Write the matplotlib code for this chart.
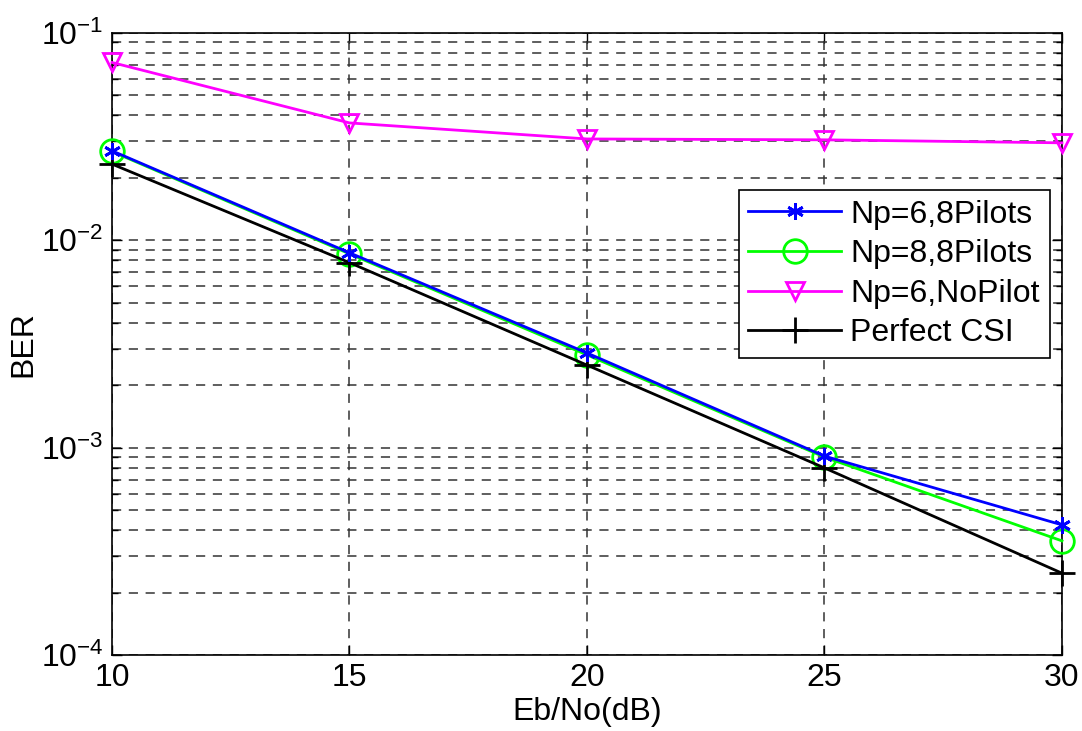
import matplotlib
matplotlib.use("Agg")
import matplotlib.pyplot as plt
import numpy as np
from matplotlib.ticker import LogLocator, NullFormatter

plt.rcParams["font.family"] = ["Liberation Sans", "DejaVu Sans"]
plt.rcParams["mathtext.fontset"] = "custom"
plt.rcParams["mathtext.rm"] = "Liberation Sans"
plt.rcParams["mathtext.it"] = "Liberation Sans"
plt.rcParams["mathtext.bf"] = "Liberation Sans"

ebno = [10, 15, 20, 25, 30]
np6_8pilots = [0.0270, 0.0087, 0.00286, 0.00091, 0.000424]
np8_8pilots = [0.0268, 0.0086, 0.00280, 0.00090, 0.000355]
np6_nopilot = [0.0720, 0.0368, 0.0308, 0.0305, 0.0295]
perfect_csi = [0.0233, 0.0078, 0.00250, 0.000798, 0.000248]

fig = plt.figure(figsize=(10.82, 7.31), dpi=100)
ax = fig.add_axes([0.1035, 0.104, 0.878, 0.851])

asterisk = (6, 2, 0)
ax.semilogy(ebno, np6_8pilots, "-", marker=asterisk, color="#0000ff", lw=2, ms=12, mew=2,
            label="Np=6,8Pilots", clip_on=False, zorder=5)
ax.semilogy(ebno, np8_8pilots, "-o", color="#00ff00", lw=2, ms=17, mew=2, mfc="none",
            label="Np=8,8Pilots", clip_on=False, zorder=4)
ax.semilogy(ebno, np6_nopilot, "-v", color="#ff00ff", lw=2, ms=13, mew=2, mfc="none",
            label="Np=6,NoPilot", clip_on=False, zorder=4)
ax.semilogy(ebno, perfect_csi, "-+", color="black", lw=2, ms=19, mew=2,
            label="Perfect CSI", clip_on=False, zorder=4)

ax.set_xlim(10, 30)
ax.set_ylim(1e-4, 1e-1)
ax.set_xticks([10, 15, 20, 25, 30])
ax.yaxis.set_major_locator(LogLocator(base=10, numticks=10))
ax.yaxis.set_minor_locator(LogLocator(base=10, subs=np.arange(2, 10), numticks=20))
ax.yaxis.set_minor_formatter(NullFormatter())

ax.grid(True, which="major", axis="both", ls=(0, (6, 5)), color="#333333", lw=1.1)
ax.grid(True, which="minor", axis="y", ls=(0, (6, 5)), color="#333333", lw=1.1)

ax.tick_params(which="both", direction="in", top=True, right=True, labelsize=23, length=7, width=1)
ax.tick_params(which="minor", length=4)
ax.tick_params(axis="x", pad=6)
ax.tick_params(axis="y", pad=6)
for s in ax.spines.values():
    s.set_linewidth(1.2)

ax.set_xlabel("Eb/No(dB)", fontsize=23, labelpad=3)
ax.set_ylabel("BER", fontsize=23, labelpad=2)

leg = ax.legend(loc="upper right", bbox_to_anchor=(0.970, 0.740), bbox_transform=fig.transFigure,
                fontsize=23, fancybox=False, framealpha=1, edgecolor="black",
                handlelength=2.9, borderpad=0.3, labelspacing=0.3, handletextpad=0.3,
                borderaxespad=0)
leg.get_frame().set_linewidth(1.2)

fig.savefig("out.png", dpi=100)
